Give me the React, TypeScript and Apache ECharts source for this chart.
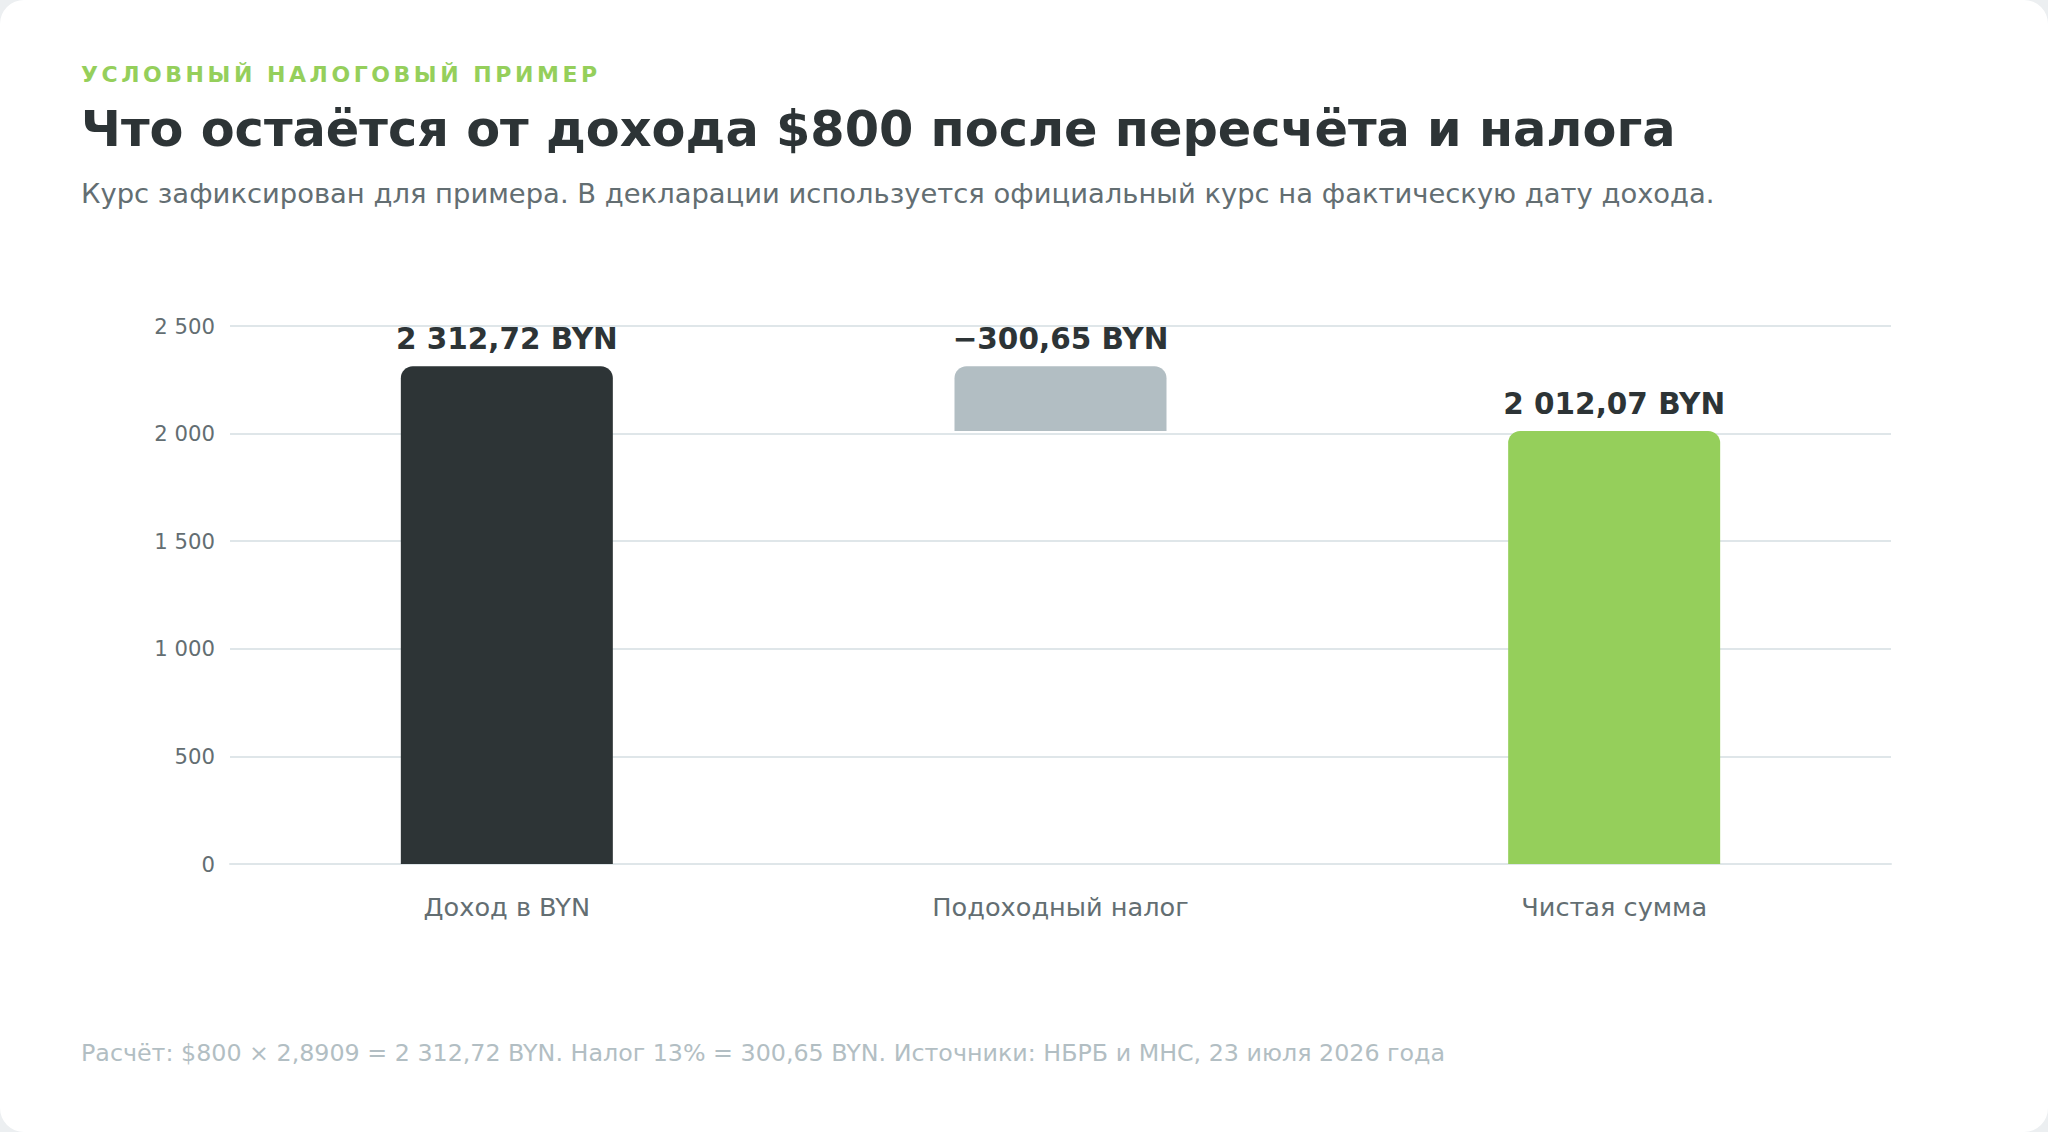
import React, { useEffect, useRef } from "react";
import * as echarts from "echarts";

const FONT = "'DejaVu Sans', sans-serif";

const eyebrow = "УСЛОВНЫЙ НАЛОГОВЫЙ ПРИМЕР";
const titleText = "Что остаётся от дохода $800 после пересчёта и налога";
const subtitleText =
  "Курс зафиксирован для примера. В декларации используется официальный курс на фактическую дату дохода.";
const footerText =
  "Расчёт: $800 × 2,8909 = 2 312,72 BYN. Налог 13% = 300,65 BYN. Источники: НБРБ и МНС, 23 июля 2026 года";

const categories = ["Доход в BYN", "Подоходный налог", "Чистая сумма"];
const baseValues = [0, 2012.07, 0];
const barValues = [2312.72, 300.65, 2012.07];
const valueSigns = ["", "−", ""];
const barColors = ["#2d3436", "#b2bec3", "#95cf5b"];
const yTicks = [0, 500, 1000, 1500, 2000, 2500];

function fmt(v: number, decimals: number): string {
  const [i, d] = v.toFixed(decimals).split(".");
  const int = i.replace(/\B(?=(\d{3})+(?!\d))/g, " ");
  return d ? `${int},${d}` : int;
}

function Chart() {
  const ref = useRef<HTMLDivElement>(null);
  useEffect(() => {
    if (!ref.current) return;
    const chart = echarts.init(ref.current, undefined, { renderer: "svg" });
    chart.setOption({
      animation: false,
      grid: { left: 230, right: 157, top: 326, bottom: 268, containLabel: false },
      xAxis: {
        type: "category",
        data: categories,
        axisLine: { show: true, lineStyle: { color: "#dfe6e9", width: 2 } },
        axisTick: { show: false },
        axisLabel: {
          color: "#636e72",
          fontSize: 25.6,
          fontFamily: FONT,
          margin: 30,
        },
      },
      yAxis: {
        type: "value",
        min: yTicks[0],
        max: yTicks[yTicks.length - 1],
        interval: yTicks[1] - yTicks[0],
        axisLine: { show: false },
        axisTick: { show: false },
        splitLine: { lineStyle: { color: "#dfe6e9", width: 2 } },
        axisLabel: {
          color: "#636e72",
          fontSize: 21.2,
          fontFamily: FONT,
          margin: 15,
          formatter: (v: number) => fmt(v, 0),
        },
      },
      series: [
        {
          type: "bar",
          stack: "w",
          data: baseValues,
          barWidth: 212,
          silent: true,
          itemStyle: { color: "transparent" },
        },
        {
          type: "bar",
          stack: "w",
          barWidth: 212,
          data: barValues.map((v, i) => ({ value: v, itemStyle: { color: barColors[i] } })),
          itemStyle: { borderRadius: [12, 12, 0, 0] },
          label: {
            show: true,
            position: "top",
            distance: 12,
            fontSize: 29.5,
            fontWeight: "bold",
            fontFamily: FONT,
            color: "#2d3436",
            formatter: (p: any) => `${valueSigns[p.dataIndex]}${fmt(barValues[p.dataIndex], 2)} BYN`,
          },
        },
      ],
    });
    return () => chart.dispose();
  }, []);
  return <div ref={ref} style={{ position: "absolute", left: 0, top: 0, width: 2048, height: 1132 }} />;
}

const textBase: React.CSSProperties = {
  position: "absolute",
  left: 81,
  margin: 0,
  whiteSpace: "nowrap",
  fontFamily: FONT,
};

export default function App() {
  return (
    <div style={{ position: "fixed", inset: 0, background: "#eceff1", overflow: "hidden" }}>
      <div
        style={{
          position: "absolute",
          left: 0,
          top: 0,
          width: 2048,
          height: 1132,
          borderRadius: 24,
          background: "#ffffff",
          overflow: "hidden",
        }}
      >
        <Chart />
        <div
          style={{
            ...textBase,
            top: 64.3,
            fontSize: 22,
            lineHeight: "22px",
            fontWeight: "bold",
            letterSpacing: 3.55,
            color: "#95cf5b",
          }}
        >
          {eyebrow}
        </div>
        <div
          style={{
            ...textBase,
            top: 104.8,
            fontSize: 49.4,
            lineHeight: "49.4px",
            fontWeight: "bold",
            color: "#2d3436",
          }}
        >
          {titleText}
        </div>
        <div
          style={{
            ...textBase,
            top: 179.8,
            fontSize: 27.4,
            lineHeight: "27.4px",
            color: "#636e72",
          }}
        >
          {subtitleText}
        </div>
        <div
          style={{
            ...textBase,
            top: 1041.7,
            fontSize: 23.77,
            lineHeight: "23.77px",
            color: "#b2bec3",
          }}
        >
          {footerText}
        </div>
      </div>
    </div>
  );
}
